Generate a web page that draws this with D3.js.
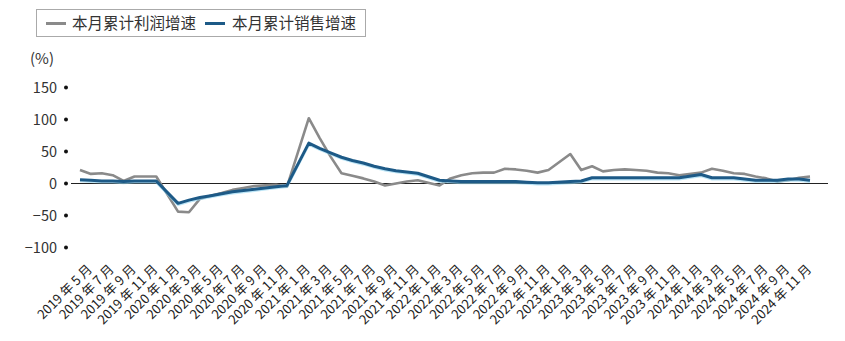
<!DOCTYPE html>
<html>
<head>
<meta charset="utf-8">
<script src="https://cdn.jsdelivr.net/npm/d3@7/dist/d3.min.js"></script>
<style>
  body { margin: 0; background: #fff; }
  text { font-family: "Noto Sans CJK SC", "Noto Sans", sans-serif; }
</style>
</head>
<body>
<div id="chart"></div>
<script>
// months 2019-05 .. 2024-12 (January has no separate figure)
const months = [
	"2019-05","2019-06","2019-07","2019-08","2019-09","2019-10","2019-11","2019-12",
	"2020-01","2020-02","2020-03","2020-04","2020-05","2020-06","2020-07","2020-08","2020-09","2020-10","2020-11","2020-12",
	"2021-01","2021-02","2021-03","2021-04","2021-05","2021-06","2021-07","2021-08","2021-09","2021-10","2021-11","2021-12",
	"2022-01","2022-02","2022-03","2022-04","2022-05","2022-06","2022-07","2022-08","2022-09","2022-10","2022-11","2022-12",
	"2023-01","2023-02","2023-03","2023-04","2023-05","2023-06","2023-07","2023-08","2023-09","2023-10","2023-11","2023-12",
	"2024-01","2024-02","2024-03","2024-04","2024-05","2024-06","2024-07","2024-08","2024-09","2024-10","2024-11","2024-12"
];

// 本月累计利润增速 (%)
const profitGrowth = [
	21, 15, 16, 13, 4, 11, 11, 11,
	null, -44, -45, -24, -19, -15, -10, -7, -4, -3, -2, -5,
	null, 102, 71, 42, 16, 12, 8, 3, -3, 0, 3, 5,
	null, -3, 8, 13, 16, 17, 17, 23, 22, 20, 17, 21,
	null, 46, 21, 27, 19, 21, 22, 21, 20, 17, 16, 13,
	null, 17, 23, 20, 16, 15, 11, 8, 3, 5, 9, 11
];

// 本月累计销售增速 (%)
const salesGrowth = [
	6, 5, 4, 4, 3, 4, 4, 4,
	null, -31, -26, -22, -19, -16, -13, -11, -9, -7, -5, -3,
	null, 63, 55, 48, 41, 36, 32, 27, 23, 20, 18, 16,
	null, 5, 4, 3, 3, 3, 3, 3, 3, 2, 1, 1,
	null, 3, 4, 9, 9, 9, 9, 9, 9, 9, 9, 9,
	null, 14, 9, 9, 9, 7, 5, 5, 5, 7, 7, 5
];

const yTicks = [150, 100, 50, 0, -50, -100];
const seriesNames = ["本月累计利润增速", "本月累计销售增速"];
const seriesColors = ["#8a8a8a", "#1d5a87"];

const width = 845, height = 341;

const svg = d3.select("#chart").append("svg")
	.attr("width", width)
	.attr("height", height);

const x = d3.scaleLinear()
	.domain([0, months.length - 1])
	.range([80, 810]);

const y = d3.scaleLinear()
	.domain([-100, 150])
	.range([247.5, 87.5]);

// y ticks: dots plus labels
const yAxis = svg.append("g");
yAxis.selectAll("circle")
	.data(yTicks)
	.join("circle")
	.attr("cx", 66)
	.attr("cy", d => y(d))
	.attr("r", 2)
	.attr("fill", "#111");
yAxis.selectAll("text")
	.data(yTicks)
	.join("text")
	.attr("x", 57)
	.attr("y", d => y(d))
	.attr("dy", "0.36em")
	.attr("text-anchor", "end")
	.attr("font-size", 14.5)
	.attr("fill", "#333")
	.text(d => d < 0 ? "\u2212" + Math.abs(d) : d);

svg.append("text")
	.attr("x", 30)
	.attr("y", 64)
	.attr("font-size", 15)
	.attr("fill", "#333")
	.text("(%)");

// zero line
svg.append("line")
	.attr("x1", 71)
	.attr("x2", 828)
	.attr("y1", y(0))
	.attr("y2", y(0))
	.attr("stroke", "#222")
	.attr("stroke-width", 1);

// x labels, every second month
const labelIdx = d3.range(0, months.length, 2).filter(i => i <= 66);
svg.append("g")
	.selectAll("text")
	.data(labelIdx)
	.join("text")
	.attr("transform", i => `translate(${x(i) + 13},270) rotate(-45)`)
	.attr("text-anchor", "end")
	.attr("font-size", 13)
	.attr("fill", "#222")
	.text(i => {
		const [yy, mm] = months[i].split("-");
		return `${yy} 年 ${+mm} 月`;
	});

// lines (January gaps are bridged)
const lineGen = d3.line()
	.x(d => x(d.i))
	.y(d => y(d.v));

const toPoints = arr => arr.map((v, i) => ({i, v})).filter(d => d.v !== null);

svg.append("path")
	.datum(toPoints(profitGrowth))
	.attr("fill", "none")
	.attr("stroke", seriesColors[0])
	.attr("stroke-width", 2.6)
	.attr("stroke-linejoin", "round")
	.attr("d", lineGen);

// faint light edge under the sales line
svg.append("path")
	.datum(toPoints(salesGrowth))
	.attr("fill", "none")
	.attr("stroke", "#8fd3f0")
	.attr("stroke-width", 2.5)
	.attr("stroke-opacity", 0.6)
	.attr("transform", "translate(0,1.4)")
	.attr("d", lineGen);

svg.append("path")
	.datum(toPoints(salesGrowth))
	.attr("fill", "none")
	.attr("stroke", seriesColors[1])
	.attr("stroke-width", 3)
	.attr("stroke-linejoin", "round")
	.attr("d", lineGen);

// legend
const legend = svg.append("g");
legend.append("rect")
	.attr("x", 36.5)
	.attr("y", 9.5)
	.attr("width", 329)
	.attr("height", 27)
	.attr("fill", "#fff")
	.attr("stroke", "#aaa");

const legendX = [[46, 72], [205, 232]];
seriesNames.forEach((name, k) => {
	legend.append("line")
		.attr("x1", legendX[k][0])
		.attr("x2", legendX[k][0] + 20)
		.attr("y1", 23.5)
		.attr("y2", 23.5)
		.attr("stroke", seriesColors[k])
		.attr("stroke-width", 3);
	legend.append("text")
		.attr("x", legendX[k][1])
		.attr("y", 23.5)
		.attr("dy", "0.36em")
		.attr("font-size", 15.5)
		.attr("fill", "#333")
		.text(name);
});
</script>
</body>
</html>
